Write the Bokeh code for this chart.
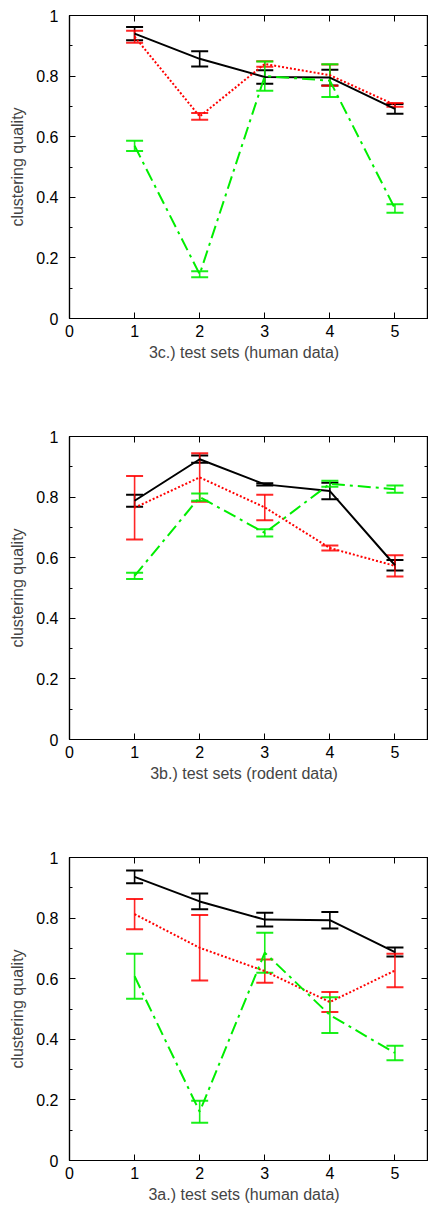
from bokeh.plotting import figure
from bokeh.models import Whisker, TeeHead, ColumnDataSource, FixedTicker, LinearAxis, Range1d, CustomJSTickFormatter
from bokeh.layouts import column
from bokeh.embed import file_html
from bokeh.resources import INLINE

# ---- data ----
test_sets = [1, 2, 3, 4, 5]
x_ticks = [0, 1, 2, 3, 4, 5]
y_ticks = [0, 0.2, 0.4, 0.6, 0.8, 1.0]
y_minor = [0.1, 0.3, 0.5, 0.7, 0.9]

# panel 3c (human data)
c_black = [0.940, 0.857, 0.797, 0.795, 0.692]
c_black_err = [0.022, 0.025, 0.022, 0.026, 0.016]
c_red = [0.930, 0.667, 0.840, 0.803, 0.705]
c_red_err = [0.020, 0.011, 0.009, 0.035, 0.006]
c_green = [0.570, 0.146, 0.800, 0.785, 0.363]
c_green_err = [0.017, 0.010, 0.048, 0.054, 0.014]

# panel 3b (rodent data)
b_black = [0.788, 0.925, 0.842, 0.820, 0.575]
b_black_err = [0.020, 0.012, 0.004, 0.027, 0.017]
b_red = [0.765, 0.865, 0.766, 0.632, 0.573]
b_red_err = [0.105, 0.080, 0.042, 0.008, 0.035]
b_green = [0.540, 0.800, 0.682, 0.844, 0.826]
b_green_err = [0.010, 0.012, 0.012, 0.010, 0.012]

# panel 3a (human data)
a_black = [0.936, 0.855, 0.795, 0.793, 0.688]
a_black_err = [0.021, 0.026, 0.023, 0.027, 0.015]
a_red = [0.813, 0.702, 0.625, 0.523, 0.627]
a_red_err = [0.050, 0.108, 0.038, 0.033, 0.055]
a_green = [0.608, 0.161, 0.686, 0.480, 0.355]
a_green_err = [0.074, 0.036, 0.066, 0.059, 0.024]

panel_labels = ["3c.)   test sets (human data)",
                "3b.)   test sets (rodent data)",
                "3a.)   test sets (human data)"]
y_label = "clustering quality"

FONT = "Liberation Sans"
BLACK = "#000000"
RED = "#ff0000"
GREEN = "#00ee00"


def style_axis(ax, show_labels=True):
    ax.axis_line_color = "black"
    ax.axis_line_width = 1.2
    ax.major_tick_in = 6
    ax.major_tick_out = 0
    ax.minor_tick_in = 3
    ax.minor_tick_out = 0
    ax.major_tick_line_color = "black"
    ax.minor_tick_line_color = "black"
    ax.major_label_text_font = FONT
    if show_labels:
        ax.major_label_text_color = "black"
        ax.major_label_text_font_size = "16px"
    else:
        ax.major_label_text_color = None
        ax.major_label_text_alpha = 0
        ax.major_label_text_font_size = "1px"
        ax.major_label_standoff = 0


def make_panel(label, series, height, border_bottom):
    p = figure(width=428, height=height, output_backend="svg", toolbar_location=None,
               x_range=Range1d(0, 5.5), y_range=Range1d(0, 1),
               min_border_left=69, min_border_right=1, min_border_top=15,
               min_border_bottom=border_bottom,
               x_axis_label=label, y_axis_label=y_label)
    p.grid.visible = False
    p.outline_line_color = "black"
    p.outline_line_width = 1.2
    p.background_fill_color = "white"
    p.border_fill_color = "white"

    xt = FixedTicker(ticks=x_ticks, minor_ticks=[])
    yt = FixedTicker(ticks=y_ticks, minor_ticks=y_minor)
    fmt = CustomJSTickFormatter(code="return String(Math.round(tick*10)/10);")

    xa = p.xaxis[0]
    xa.ticker = xt
    style_axis(xa)
    xa.major_label_standoff = 6
    xa.axis_label_standoff = 4
    xa.axis_label_text_font = FONT
    xa.axis_label_text_font_size = "16px"
    xa.axis_label_text_font_style = "normal"

    ya = p.yaxis[0]
    ya.ticker = yt
    ya.formatter = fmt
    style_axis(ya)
    ya.major_label_standoff = 11
    ya.axis_label_standoff = 7
    ya.axis_label_text_font = FONT
    ya.axis_label_text_font_size = "16px"
    ya.axis_label_text_font_style = "normal"

    top = LinearAxis(ticker=FixedTicker(ticks=x_ticks, minor_ticks=[]))
    style_axis(top, show_labels=False)
    p.add_layout(top, "above")
    right = LinearAxis(ticker=FixedTicker(ticks=y_ticks, minor_ticks=y_minor))
    style_axis(right, show_labels=False)
    p.add_layout(right, "right")

    specs = [(BLACK, None, 2.0, 1.0), (RED, "2 2", 2.0, 0.85), (GREEN, "13 5 3 5", 2.0, 0.9)]
    for (vals, errs), (col, dash, lw, alpha) in zip(series, specs):
        src = ColumnDataSource(dict(x=test_sets, y=vals,
                                    lo=[v - e for v, e in zip(vals, errs)],
                                    hi=[v + e for v, e in zip(vals, errs)]))
        w = Whisker(base="x", upper="hi", lower="lo", source=src,
                    line_color=col, line_width=1.6, line_alpha=alpha,
                    upper_head=TeeHead(size=17, line_color=col, line_width=2, line_alpha=alpha),
                    lower_head=TeeHead(size=17, line_color=col, line_width=2, line_alpha=alpha))
        p.add_layout(w)
        if dash is None:
            p.line("x", "y", source=src, line_color=col, line_width=lw)
        else:
            p.line("x", "y", source=src, line_color=col, line_width=lw, line_dash=dash)
    return p


p1 = make_panel(panel_labels[0],
                [(c_black, c_black_err), (c_red, c_red_err), (c_green, c_green_err)], 421, 103)
p2 = make_panel(panel_labels[1],
                [(b_black, b_black_err), (b_red, b_red_err), (b_green, b_green_err)], 421, 103)
p3 = make_panel(panel_labels[2],
                [(a_black, a_black_err), (a_red, a_red_err), (a_green, a_green_err)], 363, 45)

layout = column(p1, p2, p3, spacing=0)
open("out.html", "w").write(file_html(layout, INLINE))
